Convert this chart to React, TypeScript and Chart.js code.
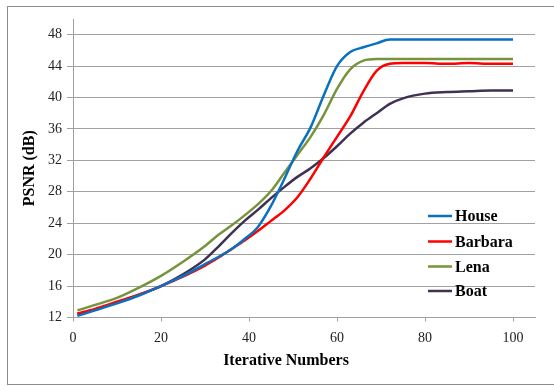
import React, { useEffect, useRef } from "react";
import { Chart, registerables } from "chart.js";

Chart.register(...registerables);

const iterations = [1, 5, 10, 15, 20, 25, 30, 33, 36, 39, 42, 45, 48, 51, 54, 57, 60, 63, 66, 69, 72, 75, 80, 85, 90, 95, 100];
const house = [12.2, 12.9, 13.8, 14.8, 16.0, 17.3, 18.8, 19.7, 20.7, 22.0, 23.5, 26.2, 29.6, 33.2, 36.2, 40.3, 44.0, 45.8, 46.4, 46.9, 47.4, 47.4, 47.4, 47.4, 47.4, 47.4, 47.4];
const barbara = [12.5, 13.1, 14.0, 14.9, 16.0, 17.2, 18.6, 19.6, 20.7, 21.8, 23.0, 24.3, 25.6, 27.3, 29.7, 32.4, 35.0, 37.6, 40.8, 43.4, 44.3, 44.4, 44.4, 44.3, 44.4, 44.3, 44.3];
const lena = [12.9, 13.6, 14.5, 15.8, 17.3, 19.1, 21.1, 22.5, 23.7, 25.0, 26.4, 28.1, 30.4, 32.7, 35.0, 37.8, 41.1, 43.6, 44.7, 44.9, 44.9, 44.9, 44.9, 44.9, 44.9, 44.9, 44.9];
const boat = [12.4, 13.0, 13.9, 14.9, 16.0, 17.5, 19.4, 21.0, 22.7, 24.3, 25.7, 27.2, 28.6, 29.9, 31.0, 32.3, 33.8, 35.4, 36.8, 38.0, 39.2, 39.9, 40.5, 40.7, 40.8, 40.9, 40.9];

const seriesNames = ["House", "Barbara", "Lena", "Boat"];
const seriesColors = ["#0a70c0", "#ff0000", "#77933c", "#403152"];
const xTickValues = [0, 20, 40, 60, 80, 100];
const yTickValues = [12, 16, 20, 24, 28, 32, 36, 40, 44, 48];

const FONT = "'Liberation Serif', 'DejaVu Serif', serif";

export default function App() {
  const ref = useRef<HTMLCanvasElement | null>(null);
  useEffect(() => {
    document.body.style.margin = "0";
    const canvas = ref.current;
    if (!canvas) return;
    const allSeries = [house, barbara, lena, boat];
    const decor = {
      id: "decor",
      beforeDraw(chart: any) {
        const ctx = chart.ctx;
        ctx.save();
        ctx.fillStyle = "#ffffff";
        ctx.fillRect(0, 0, chart.width, chart.height);
        ctx.restore();
      },
      afterDraw(chart: any) {
        const ctx = chart.ctx;
        const area = chart.chartArea;
        ctx.save();
        ctx.strokeStyle = "#8c8c8c";
        ctx.lineWidth = 1;
        ctx.strokeRect(7.5, 6.5, 560, 378);
        ctx.fillStyle = "#000";
        ctx.font = `bold 16px ${FONT}`;
        ctx.textAlign = "center";
        ctx.textBaseline = "middle";
        ctx.fillText("Iterative Numbers", 286, 361);
        ctx.save();
        ctx.translate(30, (area.top + area.bottom) / 2);
        ctx.rotate(-Math.PI / 2);
        ctx.fillText("PSNR (dB)", 0, 0);
        ctx.restore();
        const rows = [216, 241.5, 266.5, 291];
        ctx.textAlign = "left";
        seriesNames.forEach((name, i) => {
          ctx.strokeStyle = seriesColors[i];
          ctx.lineWidth = 2.5;
          ctx.beginPath();
          ctx.moveTo(428, rows[i]);
          ctx.lineTo(452, rows[i]);
          ctx.stroke();
          ctx.fillStyle = "#000";
          ctx.fillText(name, 455, rows[i] + 1);
        });
        ctx.restore();
      },
    };
    const chart = new Chart(canvas, {
      type: "line",
      data: {
        datasets: seriesNames.map((name, i) => ({
          label: name,
          data: iterations.map((x, j) => ({ x, y: allSeries[i][j] })),
          borderColor: seriesColors[i],
          backgroundColor: seriesColors[i],
          borderWidth: 2.5,
          pointRadius: 0,
          cubicInterpolationMode: "monotone" as const,
          fill: false,
        })),
      },
      options: {
        animation: false,
        responsive: false,
        devicePixelRatio: 1,
        layout: { padding: { top: 19, right: 19, left: 0, bottom: 0 } },
        plugins: { legend: { display: false }, tooltip: { enabled: false } },
        scales: {
          x: {
            type: "linear",
            min: 0,
            max: 105,
            afterBuildTicks: (s: any) => {
              s.ticks = xTickValues.map((v) => ({ value: v }));
            },
            afterFit: (s: any) => {
              s.height = 68.5;
            },
            grid: {
              drawOnChartArea: false,
              drawTicks: true,
              tickLength: 4,
              color: "#a0a0a0",
            },
            border: { display: true, color: "#a0a0a0", width: 1 },
            ticks: {
              color: "#222",
              font: { family: FONT, size: 14 },
              padding: 8,
              maxRotation: 0,
              autoSkip: false,
            },
          },
          y: {
            type: "linear",
            min: 12,
            max: 50,
            afterBuildTicks: (s: any) => {
              s.ticks = yTickValues.map((v) => ({ value: v }));
            },
            afterFit: (s: any) => {
              s.width = 73;
            },
            grid: {
              drawOnChartArea: true,
              drawTicks: true,
              tickLength: 6,
              color: "#a0a0a0",
            },
            border: { display: true, color: "#a0a0a0", width: 1 },
            ticks: {
              color: "#222",
              font: { family: FONT, size: 14 },
              padding: 5,
              autoSkip: false,
            },
          },
        },
      },
      plugins: [decor],
    });
    return () => chart.destroy();
  }, []);
  return (
    <div style={{ width: 554, height: 386 }}>
      <canvas ref={ref} width={554} height={386} style={{ display: "block" }} />
    </div>
  );
}
